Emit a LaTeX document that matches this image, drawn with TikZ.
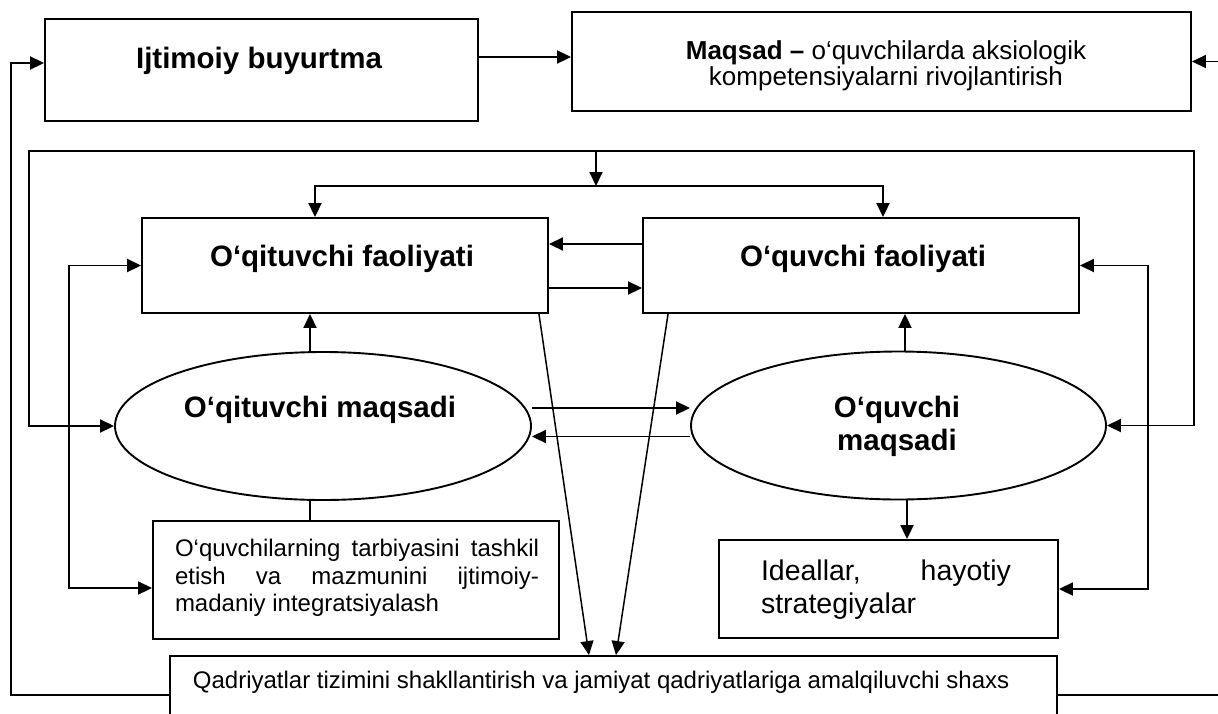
\documentclass[tikz,border=0pt]{standalone}
\usepackage{fontspec}
\setmainfont{Liberation Sans}
\usetikzlibrary{arrows.meta,shapes.geometric}

\tikzset{
  blok/.style={draw, line width=1.9pt, inner sep=0pt},
  maqsadshakl/.style={draw, ellipse, line width=1.9pt, inner sep=0pt, minimum width=416pt, minimum height=148pt},
  sarlavha/.style={font=\fontsize{29.5}{33}\selectfont\bfseries, inner sep=0pt},
  matn/.style={font=\fontsize{24}{27.5}\selectfont, inner sep=0pt}
}

\begin{document}
\begin{tikzpicture}[x=1pt,y=-1pt,>={Triangle[length=14pt,width=13pt]},line width=1.9pt]
	\clip (0,0) rectangle (1218,713);
	% bloklar
	\node[blok, minimum width=433pt, minimum height=102pt] (ib) at (261.5,70) {};
	\node[blok, minimum width=619pt, minimum height=99pt] (mq) at (881.5,61.5) {};
	\node[blok, minimum width=406pt, minimum height=95pt] (of) at (345,265.5) {};
	\node[blok, minimum width=436pt, minimum height=95pt] (uf) at (861,265.5) {};
	\node[maqsadshakl] (om) at (323,426) {};
	\node[maqsadshakl, minimum width=415pt] (um) at (898.5,425.5) {};
	\node[blok, minimum width=406pt, minimum height=118pt] (tb) at (356,580) {};
	\node[blok, minimum width=339pt, minimum height=98pt] (id) at (888.5,589) {};
	\node[blok, minimum width=887pt, minimum height=90pt] (qs) at (613.5,701) {};
	% matnlar
	\node[sarlavha, anchor=base] (ibt) at (259,68) {Ijtimoiy buyurtma};
	\node[matn, font=\fontsize{26}{26}\selectfont, align=center] (mqt) at (886,66)
		{\textbf{Maqsad –} o‘quvchilarda aksiologik\\kompetensiyalarni rivojlantirish};
	\node[sarlavha, anchor=base] (oft) at (342,266) {O‘qituvchi faoliyati};
	\node[sarlavha, anchor=base] (uft) at (863,266) {O‘quvchi faoliyati};
	\node[sarlavha, anchor=base] (omt) at (320,417) {O‘qituvchi maqsadi};
	\node[sarlavha, align=center] (umt) at (897,426) {O‘quvchi\\maqsadi};
	\node[matn, text width=364pt, align=justify] (tbt) at (357,578)
		{O‘quvchilarning tarbiyasini tashkil\linebreak etish va mazmunini ijtimoiy-\linebreak madaniy integratsiyalash};
	\node[matn, font=\fontsize{28.5}{33}\selectfont, text width=250pt, align=justify] (idt) at (886,589.5)
		{Ideallar, hayotiy\linebreak strategiyalar};
	\node[matn, anchor=base west] (qst) at (192,688)
		{Qadriyatlar tizimini shakllantirish va jamiyat qadriyatlariga amalqiluvchi shaxs};
	% burchak nuqtalari
	\coordinate (chap) at (11,695);
	\coordinate (ong) at (1224,695);
	\coordinate (rchap) at (29,151);
	\coordinate (rong) at (1194,151);
	\coordinate (rtepa) at (596,151);
	\coordinate (ichki) at (596,186);
	\coordinate (ichap) at (69,588);
	\coordinate (iong) at (1148,589);
	% bog'lanishlar
	\draw[->] ([yshift=13pt]ib.east) -- ([yshift=13pt]ib.east -| mq.west);
	\draw[->] ([yshift=6pt]qs.west) -- (chap) |- ([yshift=7pt]ib.west);
	\draw[->] ([yshift=6pt]qs.east) -- (ong) |- (mq.east);
	\draw[<->] (om.west) -| (rchap) -- (rong) |- (um.east);
	\draw[->] (rtepa) -- (ichki);
	\draw[<->] ([xshift=-30pt]of.north) |- (ichki) -| ([xshift=22pt]uf.north);
	\draw[->] ([yshift=21.5pt]uf.west) -- ([yshift=21.5pt]of.east);
	\draw[->] ([yshift=-22.5pt]of.east) -- ([yshift=-22.5pt]uf.west);
	\draw[->] ([xshift=-13pt]om.north) -- ([xshift=-13pt]om.north |- of.south);
	\draw[->] ([xshift=6.5pt]um.north) -- ([xshift=6.5pt]um.north |- uf.south);
	\draw ([xshift=-13pt]om.south) -- ([xshift=-13pt]om.south |- tb.north);
	\draw[->] ([xshift=8.5pt]um.south) -- ([xshift=8.5pt]um.south |- id.north);
	\draw[->] ([yshift=18pt]om.east) -- ([yshift=18pt]om.east -| um.west);
	\draw[->] ([yshift=-11pt]um.west) -- ([yshift=-11pt]um.west -| om.east);
	\draw[<->] (of.west) -| (ichap) -- (ichap -| tb.west);
	\draw[<->] (uf.east) -| (iong) -- (id.east);
	\draw[->, line width=1.5pt] ([xshift=-10pt]of.south east) -- ([xshift=-24.5pt]qs.north);
	\draw[->, line width=1.5pt] ([xshift=26pt]uf.south west) -- ([xshift=2.5pt]qs.north);
\end{tikzpicture}
\end{document}
